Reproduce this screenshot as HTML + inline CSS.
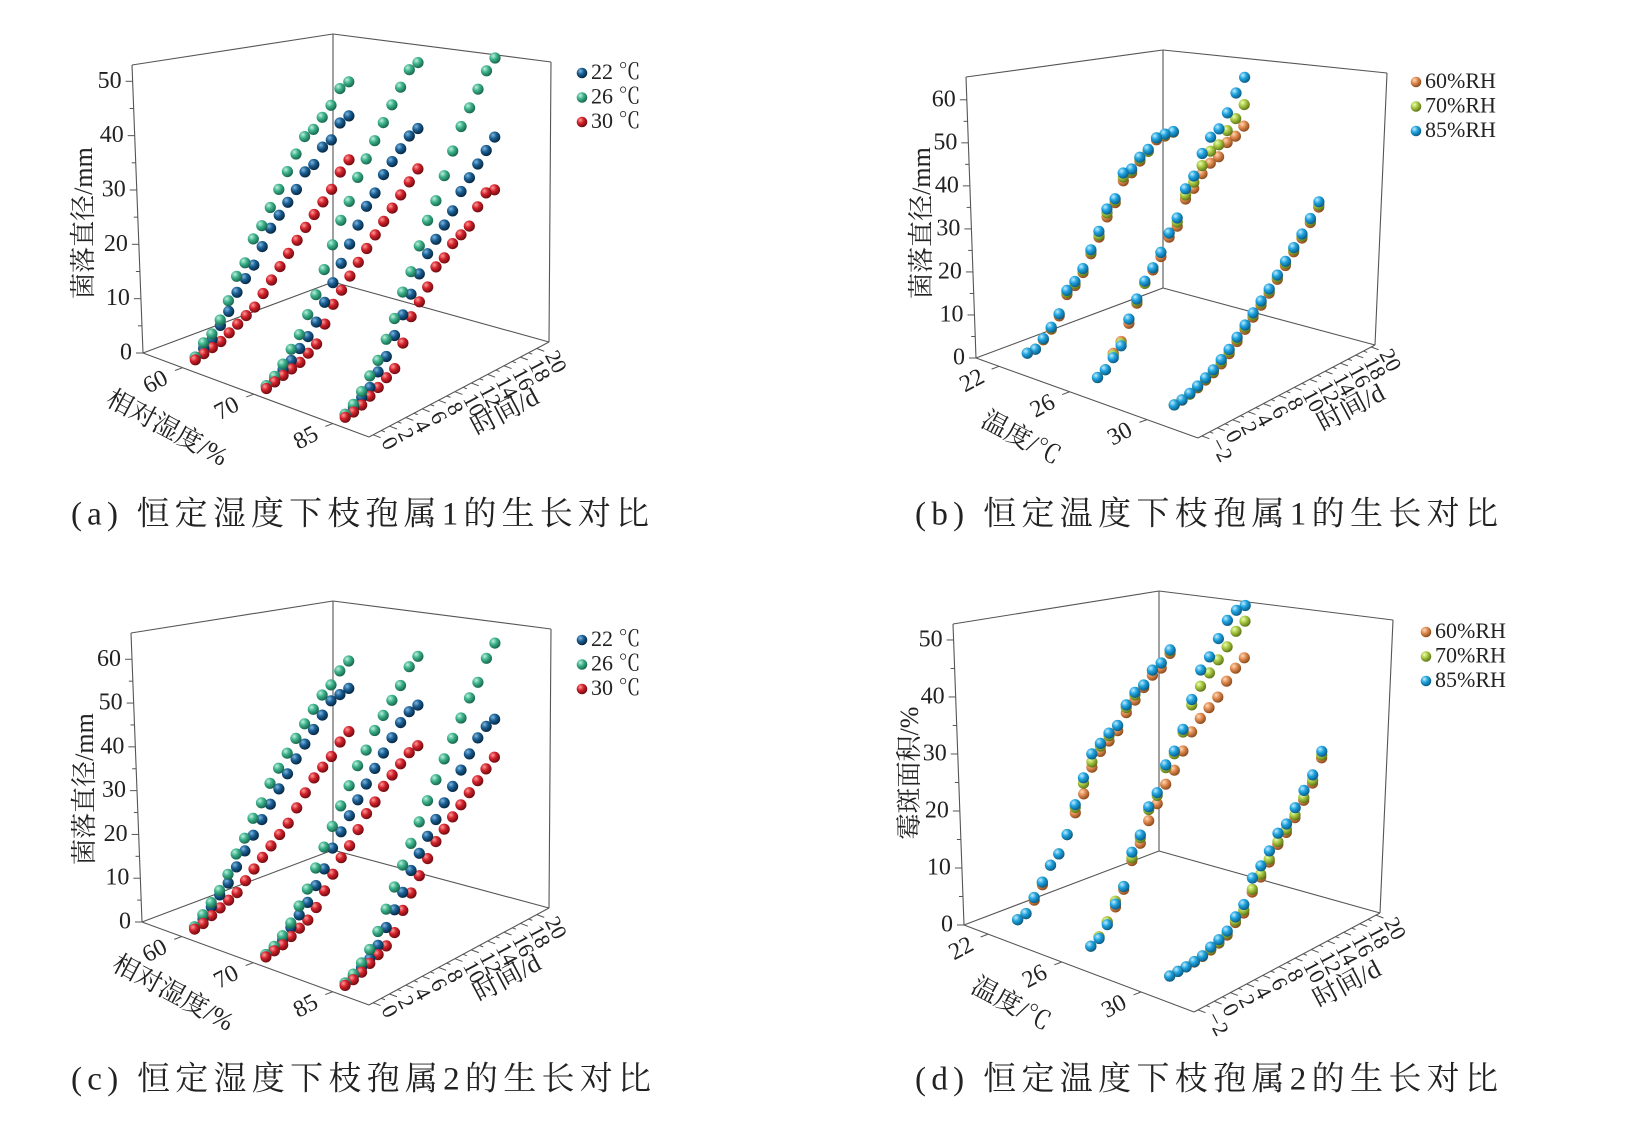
<!DOCTYPE html>
<html><head><meta charset="utf-8"><style>
html,body{margin:0;padding:0;background:#fff;}
svg{display:block;}
</style></head><body>
<svg id="fig" width="1626" height="1121" viewBox="0 0 1626 1121" xmlns="http://www.w3.org/2000/svg">
<defs>
<radialGradient id="g-blue22" cx="35%" cy="32%" r="70%"><stop offset="0" stop-color="#7fb8e0"/><stop offset="0.45" stop-color="#1a5f94"/><stop offset="1" stop-color="#06263f"/></radialGradient>
<radialGradient id="g-green26" cx="35%" cy="32%" r="70%"><stop offset="0" stop-color="#bff0dc"/><stop offset="0.45" stop-color="#3db28c"/><stop offset="1" stop-color="#17654c"/></radialGradient>
<radialGradient id="g-red30" cx="35%" cy="32%" r="70%"><stop offset="0" stop-color="#ff9a9a"/><stop offset="0.45" stop-color="#d3222b"/><stop offset="1" stop-color="#6d0a0f"/></radialGradient>
<radialGradient id="g-or60" cx="35%" cy="32%" r="70%"><stop offset="0" stop-color="#ffd9b8"/><stop offset="0.45" stop-color="#e08a4f"/><stop offset="1" stop-color="#8a4a1c"/></radialGradient>
<radialGradient id="g-yg70" cx="35%" cy="32%" r="70%"><stop offset="0" stop-color="#eaffb0"/><stop offset="0.45" stop-color="#a9c843"/><stop offset="1" stop-color="#5d7416"/></radialGradient>
<radialGradient id="g-bl85" cx="35%" cy="32%" r="70%"><stop offset="0" stop-color="#c0ecff"/><stop offset="0.45" stop-color="#1fa3df"/><stop offset="1" stop-color="#0a5b86"/></radialGradient>
</defs>
<g id="layer"></g>
</svg>
<script>
// ---------- data ----------
const days = [1,2,3,4,5,6,7,8,9,10,11,12,13,14,15,16,17,18,19];
const rhCats = ['60','70','85'];
const tempCats = ['22','26','30'];
const ticksTimeAC = [0,2,4,6,8,10,12,14,16,18,20];
const ticksTimeBD = [-2,0,2,4,6,8,10,12,14,16,18,20];
const ticksZA = [0,10,20,30,40,50];
const ticksZB = [0,10,20,30,40,50,60];
const ticksZC = [0,10,20,30,40,50,60];
const ticksZD = [0,10,20,30,40,50];
// panel a (strain 1, constant RH): by RH then temperature
const a60_22 = [1,2,3,5,7,10,12,14,17,20,22,24,26,29,30,33,34,37,38];
const a60_26 = [1,3,4,6,9,13,15,19,21,24,27,30,33,36,37,39,41,44,45];
const a60_30 = [0.5,1,1.5,2,3,4,5,6,8,10,12,14,16,18,20,22,24,27,29];
const a70_22 = [0.5,1,2,3,4.5,6,8,11,14,17,20,23,26,28,31,33,35,37,38];
const a70_26 = [0.5,1.5,3,5,7,10,13,17,21,25,28,32,35,38,41,44,47,50,51];
const a70_30 = [0,0.5,1,1.5,2,3,4,7,10,12,14,16,18,20,22,24,26,28,30];
const a85_22 = [0.5,1,2,3,5,7,10,13,16,19,22,24,26,28,31,33,35,37,39];
const a85_26 = [0.5,1.5,3,5,7,10,13,17,20,24,28,31,35,39,43,46,49,52,54];
const a85_30 = [0,0.2,0.7,1.5,2.3,3.3,4.2,8,12,14,16,19,20,22,23,24,27,29,29];
// panel c (strain 2, constant RH)
const c60_22 = [1,2,4,6,8,11,14,17,20,23,26,29,32,35,38,41,44,45,46];
const c60_26 = [1,3,5,7,10,14,17,21,24,28,31,34,37,40,43,46,48,51,53];
const c60_30 = [0.5,1,2,3,4,5,7,9,11,13,15,17,20,23,26,28,30,33,35];
const c70_22 = [0.5,1,2,4,6,8,11,14,18,21,24,27,30,33,36,39,42,44,45];
const c70_26 = [0.5,1.5,3,5,8,11,15,19,23,27,31,35,38,42,45,48,51,55,57];
const c70_30 = [0,0.5,1,2,3,4,6,9,12,15,17,20,23,25,28,30,32,34,35];
const c85_22 = [0.5,1,2,3,5,8,11,14,18,21,24,27,30,33,36,39,42,44,45];
const c85_26 = [0.5,1.5,3,5,8,12,16,20,24,28,32,36,40,44,48,52,55,60,63];
const c85_30 = [0,0.3,1,2,3,4,6,10,13,16,19,22,24,26,28,30,32,34,36];
// panel b (strain 1, constant temperature): by temperature then RH
const b22_60 = [0.5,0.7,2.2,4,6.5,11,12.5,15,19,22.5,27,30,35,36.5,39,41,43.5,44,44.5];
const b22_70 = [0.5,0.7,2.4,4.3,7,11.5,13,15.5,19.5,23,28,30.5,36,37,39.5,41,44,44.3,44.6];
const b22_85 = [0.5,0.7,2.5,4.5,7,12,13.5,16,20,24,29,31,37,37.5,40,41.5,44,44.5,44.7];
const b26_60 = [0.5,1.5,4.5,6.5,10,14,18,20.5,23,27,29,35,37,40,42,43,46,47,49];
const b26_70 = [0.5,1.5,4,6,11,14.5,18,21,24,28,30,36,38.5,42,45,46,49,51.5,54.5];
const b26_85 = [0.5,1.5,3.5,5.5,11,15,18.5,21,24,28,31,37.5,40,45,48.5,50,53.5,58,61.5];
const b30_60 = [0.3,0.5,1,1.6,2.5,3.3,4.5,6,8,10,12,14,16,18.5,21,23.5,26,29,32];
const b30_70 = [0.3,0.6,1,1.8,2.8,3.6,5,6.5,8.5,10.5,12.5,14.5,16.5,19,21.5,24,26.5,29.5,32.5];
const b30_85 = [0.3,0.6,1.2,2,3,4,5.5,7,9,11,13,15,17,19.5,22,24.5,27,30,33.3];
// panel d (strain 2, constant temperature, mould area %)
const d22_60 = [0.5,1,2.8,5,8,9.5,12.5,16,19,23.5,26,27.5,29,32,34,36,38,39,41.5];
const d22_70 = [0.5,1,3.3,5.5,8,9.5,12.5,17,21,24.5,27,28.5,30,33,35,36.5,39,40,42];
const d22_85 = [0.5,1,3.3,5.5,8,9.5,12.5,17.5,22,26,27.5,29,30,33.5,35.5,36.5,39,40,42.2];
const d26_60 = [0.5,1.5,3.5,5.5,8,12.5,15,18.5,21,24,26,29,32,34,35.5,37,39.5,41.5,43];
const d26_70 = [0.5,1.5,3.5,6.5,8.5,13,16,20.5,22.5,27,29,32.5,37,40,42,44,46,48.5,50];
const d26_85 = [0.5,1.2,3,6,8.5,14,16.5,21,23,27.5,29.5,33,38,43,45,48,51,52.5,53];
const d30_60 = [0.3,0.4,0.5,0.6,0.9,1.3,1.8,2.5,4,5,8,10,12,14.5,16,18,20.5,23,27];
const d30_70 = [0.3,0.4,0.5,0.7,1,1.5,2,2.8,4.3,5.5,8.5,10.5,12.5,15,16.5,18.5,21,23.5,27.5];
const d30_85 = [0.3,0.4,0.5,0.7,1,1.8,2.4,3.2,5,6.5,10.5,12,14,16.5,17.5,19.8,22.3,24.5,28.2];

// ---------- rendering ----------
const NS='http://www.w3.org/2000/svg';
const layer=document.getElementById('layer');
const SERIF="'Liberation Serif','Noto Serif CJK SC',serif";
function mk(tag,attrs,parent){const e=document.createElementNS(NS,tag);for(const k in attrs)e.setAttribute(k,attrs[k]);(parent||layer).appendChild(e);return e;}
function lerp(a,b,s){return [a[0]+(b[0]-a[0])*s,a[1]+(b[1]-a[1])*s];}
function makeProj(c){
  return function(u,day,z){
    const t=(day-c.tmin)/(c.tmax-c.tmin);
    const f=lerp(lerp(c.L,c.F,u),lerp(c.B,c.R,u),t);
    const tp=lerp(lerp(c.LT,c.FT,u),lerp(c.BT,c.RT,u),t);
    return lerp(f,tp,z/c.zmax);
  };
}
function norm(v){const l=Math.hypot(v[0],v[1]);return [v[0]/l,v[1]/l];}

function drawPanel(c){
  const g=mk('g',{});
  
  
  const P=makeProj(c);
  const line=(a,b,name)=>{const l=mk('line',{x1:a[0],y1:a[1],x2:b[0],y2:b[1],stroke:'#555','stroke-width':1.1},g);};
  line(c.L,c.F,'floor-front-left-edge');line(c.F,c.R,'floor-front-right-edge');
  line(c.R,c.B,'floor-back-right-edge');line(c.B,c.L,'floor-back-left-edge');
  line(c.L,c.LT,'z-axis-line');line(c.B,c.BT,'back-vertical-edge');line(c.R,c.RT,'right-vertical-edge');
  line(c.LT,c.BT,'top-left-edge');line(c.BT,c.RT,'top-right-edge');
  for(let i=0;i<c.zTicks.length;i++){
    const z=c.zTicks[i];
    const p=P(0,c.tmin,z);
    const tk=mk('line',{x1:p[0],y1:p[1],x2:p[0]-7,y2:p[1],stroke:'#555','stroke-width':1},g);
    
    
    if(i<c.zTicks.length-1){
      const pm=P(0,c.tmin,(z+c.zTicks[i+1])/2);
      const mt=mk('line',{x1:pm[0],y1:pm[1],x2:pm[0]-4,y2:pm[1],stroke:'#555','stroke-width':1},g);
      
      
    }
    const t=mk('text',{x:p[0]-11,y:p[1]+1,'text-anchor':'end','dominant-baseline':'middle','font-family':SERIF,'font-size':24,fill:'#222'},g);
    t.textContent=z;
    
    
  }
  const tdir=norm([c.L[0]-c.B[0],c.L[1]-c.B[1]]);
  for(let i=0;i<c.cats.length;i++){
    const p=P(c.us[i],c.tmin,0);
    const tk=mk('line',{x1:p[0],y1:p[1],x2:p[0]+tdir[0]*8,y2:p[1]+tdir[1]*8,stroke:'#555','stroke-width':1},g);
    
    
    const lx=p[0]+tdir[0]*28, ly=p[1]+tdir[1]*28+6;
    const t=mk('text',{x:lx,y:ly,'text-anchor':'middle','dominant-baseline':'middle','font-family':SERIF,'font-size':24,fill:'#222',transform:`rotate(-28 ${lx} ${ly})`},g);
    t.textContent=c.cats[i];
    
    
  }
  const udir=norm([c.F[0]-c.L[0],c.F[1]-c.L[1]]);
  for(let d=c.timeTicks[0]; d<=c.timeTicks[c.timeTicks.length-1]; d+=1){
    const p=P(1,d,0);
    const major=c.timeTicks.indexOf(d)>=0;
    const len=major?8:4;
    const tk=mk('line',{x1:p[0],y1:p[1],x2:p[0]+udir[0]*len,y2:p[1]+udir[1]*len,stroke:'#555','stroke-width':1},g);
    
    
  }
  for(const d of c.timeTicks){
    const p=P(1,d,0);
    const lx=p[0]+udir[0]*13, ly=p[1]+udir[1]*13;
    const t=mk('text',{x:lx,y:ly,'text-anchor':'start','dominant-baseline':'middle','font-family':SERIF,'font-size':22,fill:'#222',transform:`rotate(62 ${lx} ${ly})`},g);
    t.textContent=d<0?('\u2212'+(-d)):d;
    
    
  }
  const zt=mk('text',{x:c.zTitle[0],y:c.zTitle[1],'text-anchor':'middle','dominant-baseline':'middle','font-family':SERIF,'font-size':26,fill:'#222',transform:`rotate(-90 ${c.zTitle[0]} ${c.zTitle[1]})`},g);
  zt.textContent=c.zTitleText;
  
  
  const xt=mk('text',{x:c.xTitle[0],y:c.xTitle[1],'text-anchor':'middle','dominant-baseline':'middle','font-family':SERIF,'font-size':26,fill:'#222',transform:`rotate(28 ${c.xTitle[0]} ${c.xTitle[1]})`},g);
  xt.textContent=c.xTitleText;
  
  
  const tt=mk('text',{x:c.tTitle[0],y:c.tTitle[1],'text-anchor':'middle','dominant-baseline':'middle','font-family':SERIF,'font-size':26,fill:'#222',transform:`rotate(-28 ${c.tTitle[0]} ${c.tTitle[1]})`},g);
  tt.textContent='时间/d';
  
  
  const pts=[];
  for(let gi=0;gi<c.series.length;gi++){
    for(let si=0;si<c.series[gi].length;si++){
      const vals=c.series[gi][si];
      for(let k=0;k<days.length;k++){
        const t=(days[k]-c.tmin)/(c.tmax-c.tmin);
        pts.push({u:c.us[gi],day:days[k],z:vals[k],fill:c.fills[si],key:(t-c.us[gi]),si:si});
      }
    }
  }
  pts.sort((a,b)=>(b.key-a.key)||(a.si-b.si));
  for(const p of pts){
    const q=P(p.u,p.day,p.z);
    const ci=mk('circle',{cx:q[0].toFixed(1),cy:q[1].toFixed(1),r:5.6,fill:`url(#${p.fill})`},g);
    
    
  }
  for(let i=0;i<c.legend.length;i++){
    const lx=c.legendPos[0], ly=c.legendPos[1]+i*24.5;
    const m=mk('circle',{cx:lx,cy:ly,r:5.3,fill:`url(#${c.fills[i]})`},g);
    
    
    const t=mk('text',{x:lx+9,y:ly+1,'dominant-baseline':'middle','font-family':SERIF,'font-size':22,fill:'#222'},g);
    t.textContent=c.legend[i];
    
    
  }
  const cap=mk('text',{x:c.caption[0],y:c.caption[1],'dominant-baseline':'middle','font-family':SERIF,'font-size':33,fill:'#222',textLength:c.caption[2],lengthAdjust:'spacing'},g);
  cap.textContent=c.captionText;
  
  
}

const fillsT=['g-blue22','g-green26','g-red30'];
const fillsRH=['g-or60','g-yg70','g-bl85'];
drawPanel({name:'panel-a',L:[143,353],F:[369,437],R:[549,342],B:[333,282],LT:[132,65],FT:[368,116],RT:[551,62],BT:[333,34],
  zmax:53,tmin:-0.5,tmax:21.5,us:[0.175,0.49,0.84],cats:rhCats,zTicks:ticksZA,timeTicks:ticksTimeAC,
  series:[[a60_22,a60_26,a60_30],[a70_22,a70_26,a70_30],[a85_22,a85_26,a85_30]],fills:fillsT,
  legend:['22 ℃','26 ℃','30 ℃'],legendPos:[582,73],
  zTitle:[86,223],zTitleText:'菌落直径/mm',xTitle:[166,430],xTitleText:'相对湿度/%',tTitle:[506,414],
  caption:[71,517,578],captionText:'(a) 恒定湿度下枝孢属1的生长对比'});
drawPanel({name:'panel-c',L:[142,922],F:[369,1005],R:[549,908],B:[333,850],LT:[131,633],FT:[368,685],RT:[551,629],BT:[333,601],
  zmax:66,tmin:-0.5,tmax:21.5,us:[0.175,0.49,0.84],cats:rhCats,zTicks:ticksZC,timeTicks:ticksTimeAC,
  series:[[c60_22,c60_26,c60_30],[c70_22,c70_26,c70_30],[c85_22,c85_26,c85_30]],fills:fillsT,
  legend:['22 ℃','26 ℃','30 ℃'],legendPos:[582,640],
  zTitle:[87,789],zTitleText:'菌落直径/mm',xTitle:[172,995],xTitleText:'相对湿度/%',tTitle:[508,980],
  caption:[71,1082,580],captionText:'(c) 恒定湿度下枝孢属2的生长对比'});
drawPanel({name:'panel-b',L:[976,358],F:[1198,438],R:[1375,345],B:[1163,288],LT:[966,77],FT:[1198,138],RT:[1387,73],BT:[1163,50],
  zmax:65.3,tmin:-2.5,tmax:20.5,us:[0.104,0.422,0.77],cats:tempCats,zTicks:ticksZB,timeTicks:ticksTimeBD,
  series:[[b22_60,b22_70,b22_85],[b26_60,b26_70,b26_85],[b30_60,b30_70,b30_85]],fills:fillsRH,
  legend:['60%RH','70%RH','85%RH'],legendPos:[1416,82],
  zTitle:[924,223],zTitleText:'菌落直径/mm',xTitle:[1020,440],xTitleText:'温度/℃',tTitle:[1352,410],
  caption:[915,517,583],captionText:'(b) 恒定温度下枝孢属1的生长对比'});
drawPanel({name:'panel-d',L:[964,925],F:[1194,1012],R:[1380,913],B:[1159,851],LT:[953,624],FT:[1194,692],RT:[1393,620],BT:[1159,591],
  zmax:52.8,tmin:-2.5,tmax:20.5,us:[0.105,0.425,0.77],cats:tempCats,zTicks:ticksZD,timeTicks:ticksTimeBD,
  series:[[d22_60,d22_70,d22_85],[d26_60,d26_70,d26_85],[d30_60,d30_70,d30_85]],fills:fillsRH,
  legend:['60%RH','70%RH','85%RH'],legendPos:[1426,632],
  zTitle:[912,773],zTitleText:'霉斑面积/%',xTitle:[1010,1006],xTitleText:'温度/℃',tTitle:[1348,986],
  caption:[915,1082,583],captionText:'(d) 恒定温度下枝孢属2的生长对比'});
</script>
</body></html>
